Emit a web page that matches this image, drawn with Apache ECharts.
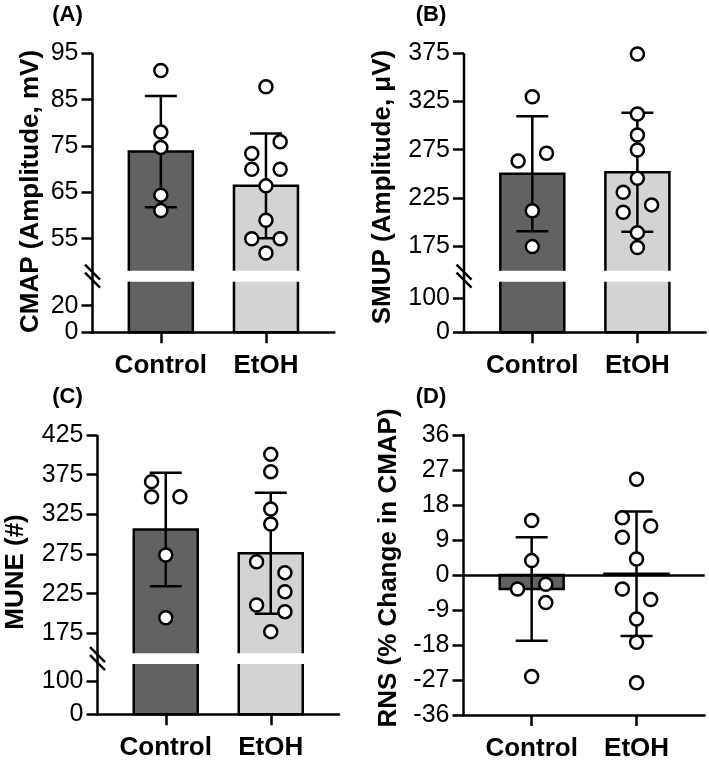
<!DOCTYPE html>
<html><head><meta charset="utf-8">
<script src="https://cdn.jsdelivr.net/npm/echarts@6/dist/echarts.min.js"></script>
<style>html,body{margin:0;padding:0;background:#fff}#c{width:709px;height:765px}</style>
</head><body><div id="c"></div>
<script>
// ---------------- data ----------------
const groups = ['Control', 'EtOH'];

// (A) CMAP (Amplitude, mV)
const cmapMean = [73.8, 66.4];
const cmapSD = [12.0, 11.3];
const cmapControl = [91.3, 78.0, 74.7, 64.4, 61.1];
const cmapControlJitter = [0, 0, 0, 0, 0];
const cmapEtOH = [87.8, 75.9, 73.4, 70.0, 70.0, 66.4, 59.0, 55.0, 55.0, 51.9];
const cmapEtOHJitter = [0, 1, -1, -1, 1, 0, 0, -1, 1, 0];
const cmapUpperTicks = [55, 65, 75, 85, 95];
const cmapLowerTicks = [0, 20];

// (B) SMUP (Amplitude, µV)
const smupMean = [250.0, 251.5];
const smupSD = [59.7, 61.7];
const smupControl = [330.0, 263.3, 271.3, 211.7, 174.4];
const smupControlJitter = [0, -1, 1, 0, 0];
const smupEtOH = [374.3, 312.0, 290.2, 274.7, 245.3, 230.8, 210.1, 217.7, 188.9, 173.4];
const smupEtOHJitter = [0, 0, 0, 0, 0, -1, -1, 1, 0, 0];
const smupUpperTicks = [175, 225, 275, 325, 375];
const smupLowerTicks = [0, 100];

// (C) MUNE (#)
const muneMean = [305.8, 276.0];
const muneSD = [71.5, 76.3];
const muneControl = [366.2, 347.2, 347.2, 273.7, 194.7];
const muneControlJitter = [-1, -1, 1, 0, 0];
const muneEtOH = [400.6, 378.8, 331.7, 312.8, 265.3, 251.5, 227.5, 210.7, 202.3, 177.1];
const muneEtOHJitter = [0, 0, 0, 0, -1, 1, 1, -1, 1, 0];
const muneUpperTicks = [175, 225, 275, 325, 375, 425];
const muneLowerTicks = [0, 100];

// (D) RNS (% Change in CMAP)
const rnsMean = [-3.6, 0.3];
const rnsSD = [13.3, 16.0];
const rnsControl = [14.0, 3.7, -3.6, -2.4, -7.1, -26.1];
const rnsControlJitter = [0, 0, -1, 1, 1, 0];
const rnsEtOH = [24.6, 14.7, 12.6, 9.7, 4.1, -3.6, -6.3, -11.3, -17.3, -27.7];
const rnsEtOHJitter = [0, -1, 1, -1, 0, -1, 1, 0, 0, 0];

// ---------------- style ----------------
const FONT = "'Liberation Sans', Arial, Helvetica, sans-serif";
const barColors = ['#626262', '#d3d3d3'];
const LW = 2.5;
const BAR_W = 64;
const CAP = 16;
const JITTER = 0.135;
const X_MIN = -0.65, X_MAX = 1.65;
const TICK_FS = 25, TITLE_FS = 26, XLAB_FS = 26;
const INK = '#000';

function pts(vals, jit, g) { return vals.map((v, i) => [g + jit[i] * JITTER, v]); }

function renderBar(params, api) {
  const x = api.value(0), v = api.value(1);
  const cs = params.coordSys;
  const p = api.coord([x, v]), b = api.coord([x, 0]);
  const hw = BAR_W / 2;
  const yTop = Math.min(p[1], b[1]), yBot = Math.max(p[1], b[1]);
  const gTop = cs.y, gBot = cs.y + cs.height;
  const y1 = Math.max(yTop, gTop), y2 = Math.min(yBot, gBot);
  if (y2 <= y1) return null;
  const xl = p[0] - hw, xr = p[0] + hw;
  const topIn = yTop >= gTop - 0.5, botIn = yBot <= gBot + 0.5;
  const edge = { stroke: INK, lineWidth: LW, fill: 'none', lineJoin: 'miter' };
  const children = [{ type: 'rect', shape: { x: xl, y: y1, width: xr - xl, height: y2 - y1 }, style: { fill: barColors[params.dataIndex], stroke: 'none' } }];
  if (topIn && botIn) children.push({ type: 'rect', shape: { x: xl, y: y1, width: xr - xl, height: y2 - y1 }, style: edge });
  else if (topIn) children.push({ type: 'polyline', shape: { points: [[xl, y2], [xl, y1], [xr, y1], [xr, y2]] }, style: edge });
  else if (botIn) children.push({ type: 'polyline', shape: { points: [[xl, y1], [xl, y2], [xr, y2], [xr, y1]] }, style: edge });
  else {
    children.push({ type: 'line', shape: { x1: xl, y1: y1, x2: xl, y2: y2 }, style: edge });
    children.push({ type: 'line', shape: { x1: xr, y1: y1, x2: xr, y2: y2 }, style: edge });
  }
  return { type: 'group', children };
}

function renderErr(params, api) {
  const x = api.value(0), m = api.value(1), s = api.value(2);
  const hi = api.coord([x, m + s]), lo = api.coord([x, m - s]);
  const st = { stroke: INK, lineWidth: LW, fill: 'none' };
  return { type: 'group', children: [
    { type: 'line', shape: { x1: hi[0], y1: hi[1], x2: lo[0], y2: lo[1] }, style: st },
    { type: 'line', shape: { x1: hi[0] - CAP, y1: hi[1], x2: hi[0] + CAP, y2: hi[1] }, style: st },
    { type: 'line', shape: { x1: lo[0] - CAP, y1: lo[1], x2: lo[0] + CAP, y2: lo[1] }, style: st }
  ]};
}

const grid = [], xAxis = [], yAxis = [], series = [], graphic = [];

function xAx(gi, show) {
  return {
    type: 'value', gridIndex: gi, min: X_MIN, max: X_MAX, show: show,
    splitLine: { show: false },
    axisLine: { show: show, onZero: false, lineStyle: { color: INK, width: LW } },
    axisTick: { show: show, customValues: [0, 1], length: 11, lineStyle: { color: INK, width: LW } },
    axisLabel: { show: show, customValues: [0, 1], margin: 21, formatter: v => groups[Math.round(v)],
      fontFamily: FONT, fontWeight: 'bold', fontSize: XLAB_FS, color: INK }
  };
}
function yTicks(gi, min, max, ticks) {
  return {
    type: 'value', gridIndex: gi, min: min, max: max,
    splitLine: { show: false }, axisLine: { show: false, onZero: false },
    axisTick: { show: true, customValues: ticks, length: 11, lineStyle: { color: INK, width: LW } },
    axisLabel: { show: true, customValues: ticks, margin: 14, fontFamily: FONT, fontSize: TICK_FS, color: INK }
  };
}
function addSeries(gi, means, sds, c, cj, e, ej, withPoints) {
  series.push({ type: 'custom', xAxisIndex: gi, yAxisIndex: gi, z: 2, renderItem: renderBar,
    encode: { x: 0, y: 1 }, data: means.map((m, i) => [i, m]) });
  if (withPoints) {
    series.push({ type: 'custom', xAxisIndex: gi, yAxisIndex: gi, z: 3, renderItem: renderErr,
      encode: { x: 0, y: 1 }, data: means.map((m, i) => [i, m, sds[i]]) });
    series.push({ type: 'scatter', xAxisIndex: gi, yAxisIndex: gi, z: 4, symbol: 'circle', symbolSize: 13,
      itemStyle: { color: '#fff', borderColor: INK, borderWidth: 2.5, opacity: 1 },
      data: pts(c, cj, 0).concat(pts(e, ej, 1)) });
  }
}

function title(text, x, y) {
  graphic.push({ type: 'text', z: 50, x: x, y: y, rotation: Math.PI / 2,
    style: { text: text, x: 0, y: 0, align: 'center', verticalAlign: 'middle',
      font: 'bold ' + TITLE_FS + 'px ' + FONT, fill: INK } });
}

function brokenPanel(P) {
  const W = P.right - P.left;
  const gu = grid.length;
  grid.push({ left: P.left, top: P.top, width: W, height: P.upperBottom - P.top });
  xAxis.push(xAx(gu, false));
  yAxis.push(yTicks(gu, P.upperMin, P.upperMax, P.upperTicks));
  addSeries(gu, P.mean, P.sd, P.c, P.cj, P.e, P.ej, true);

  const gl = grid.length;
  grid.push({ left: P.left, top: P.lowerTop, width: W, height: P.bottom - P.lowerTop });
  xAxis.push(xAx(gl, true));
  yAxis.push(yTicks(gl, 0, P.lowerMax, P.lowerTicks));
  addSeries(gl, P.mean, P.sd, null, null, null, null, false);

  // continuous y axis line across the break
  graphic.push({ type: 'line', z: 40, shape: { x1: P.left, y1: P.top, x2: P.left, y2: P.bottom + LW / 2 },
    style: { stroke: INK, lineWidth: LW } });
  const cy = (P.upperBottom + P.lowerTop) / 2, ax = P.left;
  [-4, 4].forEach(d => graphic.push({ type: 'line', z: 50,
    shape: { x1: ax - 7.5, y1: cy + d - 7.5, x2: ax + 7.5, y2: cy + d + 7.5 },
    style: { stroke: INK, lineWidth: LW } }));
  title(P.title, P.titleX, P.titleY);
}

brokenPanel({ left: 92.5, right: 334.3, top: 53.3, upperBottom: 270.7, lowerTop: 281.7, bottom: 332.3,
  upperMin: 48.1, upperMax: 95, lowerMax: 38, upperTicks: cmapUpperTicks, lowerTicks: cmapLowerTicks,
  mean: cmapMean, sd: cmapSD, c: cmapControl, cj: cmapControlJitter, e: cmapEtOH, ej: cmapEtOHJitter,
  title: 'CMAP (Amplitude, mV)', titleX: 31, titleY: 191.5 });
brokenPanel({ left: 464, right: 705.7, top: 53.3, upperBottom: 270.7, lowerTop: 281.7, bottom: 332.3,
  upperMin: 149.4, upperMax: 375, lowerMax: 147.5, upperTicks: smupUpperTicks, lowerTicks: smupLowerTicks,
  mean: smupMean, sd: smupSD, c: smupControl, cj: smupControlJitter, e: smupEtOH, ej: smupEtOHJitter,
  title: 'SMUP (Amplitude, μV)', titleX: 383, titleY: 187 });
brokenPanel({ left: 97.5, right: 339, top: 435, upperBottom: 653.3, lowerTop: 664, bottom: 714.3,
  upperMin: 149.8, upperMax: 425, lowerMax: 150, upperTicks: muneUpperTicks, lowerTicks: muneLowerTicks,
  mean: muneMean, sd: muneSD, c: muneControl, cj: muneControlJitter, e: muneEtOH, ej: muneEtOHJitter,
  title: 'MUNE (#)', titleX: 16, titleY: 572 });

// Panel D (single axis)
(function () {
  const gi = grid.length;
  grid.push({ left: 463.5, top: 435, width: 704.7 - 463.5, height: 715 - 435 });
  xAxis.push(xAx(gi, true));
  yAxis.push({ type: 'value', gridIndex: gi, min: -36, max: 36, interval: 9, splitLine: { show: false },
    axisLine: { show: true, onZero: false, lineStyle: { color: INK, width: LW } },
    axisTick: { show: true, length: 11, lineStyle: { color: INK, width: LW } },
    axisLabel: { margin: 14, fontFamily: FONT, fontSize: TICK_FS, color: INK } });
  addSeries(gi, rnsMean, rnsSD, rnsControl, rnsControlJitter, rnsEtOH, rnsEtOHJitter, true);
  series[series.length - 1].markLine = { silent: true, symbol: 'none', animation: false,
    label: { show: false }, lineStyle: { color: INK, width: LW, type: 'solid' }, data: [{ yAxis: 0 }] };
  title('RNS (% Change in CMAP)', 389, 568);
})();

[['(A)', 67.5, 15], ['(B)', 431, 15], ['(C)', 67.5, 397], ['(D)', 431, 397]].forEach(t => graphic.push({
  type: 'text', z: 50, style: { text: t[0], x: t[1], y: t[2], align: 'center', verticalAlign: 'middle',
    font: 'bold 22px ' + FONT, fill: INK } }));

const chart = echarts.init(document.getElementById('c'), null, { renderer: 'canvas' });
chart.setOption({ animation: false, backgroundColor: '#fff', grid, xAxis, yAxis, series, graphic });
</script></body></html>
